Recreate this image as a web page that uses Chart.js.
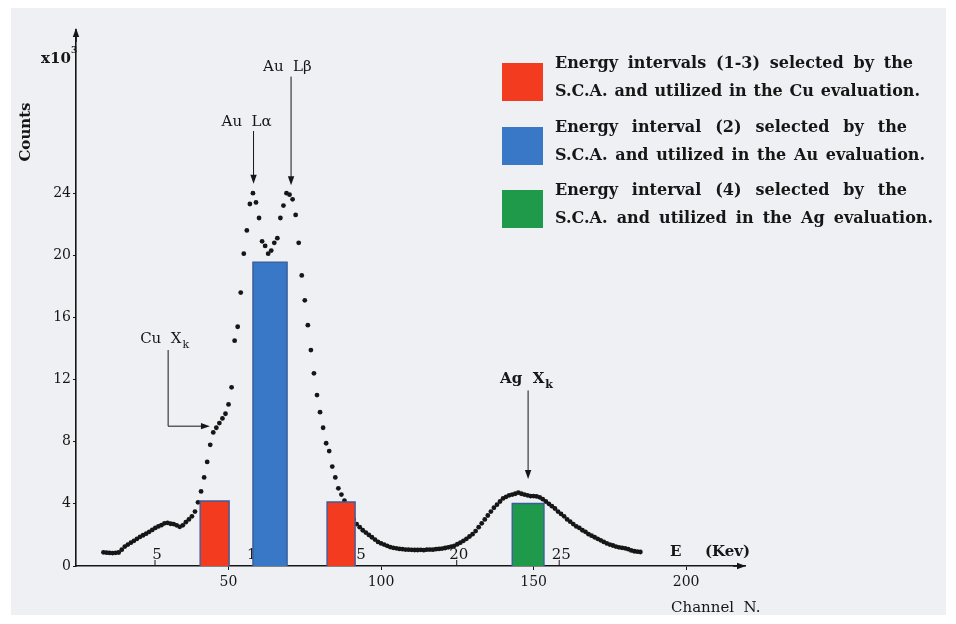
<!DOCTYPE html>
<html>
<head>
<meta charset="utf-8">
<script src="https://cdn.jsdelivr.net/npm/chart.js@4.4.0/dist/chart.umd.min.js"></script>
<style>
  html, body { margin: 0; padding: 0; background: #fff; }
  #wrap { width: 956px; height: 624px; }
</style>
</head>
<body>
<div id="wrap"><canvas id="spectrum" width="956" height="624"></canvas></div>
<script>
/*******************************  Data  ********************************/
// counts (x10^3) per channel, one channel at a time
var firstChannel = 9;
var counts = [
  0.88, 0.86, 0.84, 0.83, 0.85, 0.87, 1.05, 1.25, 1.38, 1.50,   // 9-18
  1.62, 1.75, 1.88, 1.98, 2.08, 2.20, 2.32, 2.45, 2.55, 2.63,   // 19-28
  2.75, 2.78, 2.72, 2.70, 2.62, 2.52, 2.62, 2.82, 3.00, 3.20,   // 29-38
  3.50, 4.10, 4.80, 5.70, 6.70, 7.80, 8.60, 8.90, 9.20, 9.50,   // 39-48
  9.80, 10.4, 11.5, 14.5, 15.4, 17.6, 20.1, 21.6, 23.3, 24.0,   // 49-58
  23.4, 22.4, 20.9, 20.6, 20.1, 20.3, 20.8, 21.1, 22.4, 23.2,   // 59-68
  24.0, 23.9, 23.6, 22.6, 20.8, 18.7, 17.1, 15.5, 13.9, 12.4,   // 69-78
  11.0, 9.90, 8.90, 7.90, 7.40, 6.40, 5.70, 5.00, 4.60, 4.20,   // 79-88
  3.80, 3.40, 3.00, 2.70, 2.50, 2.30, 2.15, 2.00, 1.85, 1.70,   // 89-98
  1.55, 1.45, 1.38, 1.30, 1.22, 1.17, 1.14, 1.10, 1.08, 1.06,   // 99-108
  1.05, 1.04, 1.03, 1.03, 1.04, 1.02, 1.05, 1.06, 1.05, 1.08,   // 109-118
  1.10, 1.12, 1.16, 1.20, 1.25, 1.30, 1.40, 1.50, 1.62, 1.75,   // 119-128
  1.90, 2.05, 2.25, 2.50, 2.75, 3.00, 3.25, 3.50, 3.75, 3.95,   // 129-138
  4.15, 4.35, 4.45, 4.55, 4.60, 4.65, 4.72, 4.65, 4.60, 4.55,   // 139-148
  4.50, 4.50, 4.48, 4.42, 4.30, 4.15, 4.00, 3.85, 3.70, 3.50,   // 149-158
  3.35, 3.20, 3.00, 2.85, 2.70, 2.55, 2.45, 2.30, 2.20, 2.05,   // 159-168
  1.95, 1.85, 1.75, 1.65, 1.55, 1.45, 1.38, 1.32, 1.25, 1.20,   // 169-178
  1.17, 1.14, 1.08, 1.00, 0.95, 0.92, 0.90                      // 179-185
];

// S.C.A. energy windows (channels) and the bar heights (x10^3 counts)
var intervalNames  = ['1', '2', '3', '4'];
var intervalStart  = [40.7, 58.0, 82.3, 143.0];
var intervalEnd    = [50.2, 69.2, 91.5, 153.4];
var intervalCounts = [4.18, 19.56, 4.12, 4.02];

// axis ticks
var channelTicks = [50, 100, 150, 200];
var countTicks   = [0, 4, 8, 12, 16, 20, 24];
// energy scale printed along the channel axis (keV -> channel)
var energyLabels   = ['5', '10', '15', '20', '25'];
var energyChannels = [25.9, 58.5, 91.2, 124.8, 158.4];

var legendLines = [
  ['Energy intervals (1-3) selected by the', 'S.C.A. and utilized in the Cu evaluation.'],
  ['Energy interval (2) selected by the', 'S.C.A. and utilized in the Au evaluation.'],
  ['Energy interval (4) selected by the', 'S.C.A. and utilized in the Ag evaluation.']
];

/*****************************  Styles  ********************************/
var RED = '#f23b1f', BLUE = '#3878c6', GREEN = '#1f9a4b';
var intervalColors = [RED, BLUE, RED, GREEN];
var legendColors = [RED, BLUE, GREEN];
var INK = '#161616';
var SERIF = '"DejaVu Serif", "Liberation Serif", serif';

/****************************  Datasets  *******************************/
var datasets = [];
for (var i = 0; i < intervalStart.length; i++) {
    datasets.push({
        label: 'Interval ' + intervalNames[i],
        data: [
            {x: intervalStart[i], y: 0},
            {x: intervalStart[i], y: intervalCounts[i]},
            {x: intervalEnd[i], y: intervalCounts[i]},
            {x: intervalEnd[i], y: 0}
        ],
        fill: 'origin',
        backgroundColor: intervalColors[i],
        borderColor: '#3b5c9a',
        borderWidth: 1.4,
        pointRadius: 0,
        tension: 0,
        order: 0
    });
}
datasets.push({
    label: 'Spectrum',
    data: counts.map(function(c, k) { return {x: firstChannel + k, y: c}; }),
    showLine: false,
    pointRadius: 2.4,
    pointBorderWidth: 0,
    pointBackgroundColor: INK,
    order: 1
});

/*****************************  Helpers  *******************************/
function arrow(ctx, x1, y1, x2, y2) {
    var a = Math.atan2(y2 - y1, x2 - x1), len = 9, w = 3.2;
    ctx.beginPath();
    ctx.moveTo(x1, y1);
    ctx.lineTo(x2 - Math.cos(a) * len * 0.8, y2 - Math.sin(a) * len * 0.8);
    ctx.stroke();
    ctx.beginPath();
    ctx.moveTo(x2, y2);
    ctx.lineTo(x2 - Math.cos(a) * len - Math.sin(a) * w, y2 - Math.sin(a) * len + Math.cos(a) * w);
    ctx.lineTo(x2 - Math.cos(a) * len + Math.sin(a) * w, y2 - Math.sin(a) * len - Math.cos(a) * w);
    ctx.closePath();
    ctx.fill();
}

// spread the words of a line over a given width, like the typeset legend
function justified(ctx, text, x, y, width) {
    var words = text.split(' ');
    var used = 0;
    for (var i = 0; i < words.length; i++) used += ctx.measureText(words[i]).width;
    var gap = words.length > 1 ? (width - used) / (words.length - 1) : 0;
    for (var j = 0; j < words.length; j++) {
        ctx.fillText(words[j], x, y);
        x += ctx.measureText(words[j]).width + gap;
    }
}

function withSub(ctx, main, sub, x, y, subFont) {
    ctx.fillText(main, x, y);
    var w = ctx.measureText(main).width;
    var f = ctx.font;
    ctx.font = subFont;
    ctx.fillText(sub, x + w + 1, y + 5);
    ctx.font = f;
}

/*****************************  Plugin  ********************************/
var decor = {
    id: 'decor',
    beforeDraw: function(chart) {
        var ctx = chart.ctx;
        ctx.save();
        ctx.fillStyle = '#ffffff';
        ctx.fillRect(0, 0, chart.width, chart.height);
        ctx.fillStyle = '#eef0f4';
        ctx.fillRect(11, 8, chart.width - 21, chart.height - 17);
        ctx.restore();
    },
    beforeDatasetsDraw: function(chart) {
        // keV labels sit under the bars, as in the print
        var ctx = chart.ctx, xs = chart.scales.x, bottom = chart.chartArea.bottom;
        ctx.save();
        ctx.fillStyle = INK;
        ctx.strokeStyle = INK;
        ctx.lineWidth = 1;
        ctx.font = '15px ' + SERIF;
        ctx.textAlign = 'center';
        ctx.textBaseline = 'alphabetic';
        for (var i = 0; i < energyLabels.length; i++) {
            var px = xs.getPixelForValue(energyChannels[i]);
            ctx.beginPath();
            ctx.moveTo(px, bottom);
            ctx.lineTo(px, bottom - 6);
            ctx.stroke();
            ctx.fillText(energyLabels[i], px + 2, bottom - 7);
        }
        ctx.restore();
    },
    afterDraw: function(chart) {
        var ctx = chart.ctx, area = chart.chartArea;
        var xs = chart.scales.x, ys = chart.scales.y;
        var X = function(v) { return xs.getPixelForValue(v); };
        var Y = function(v) { return ys.getPixelForValue(v); };
        ctx.save();
        ctx.fillStyle = INK;
        ctx.strokeStyle = INK;

        // axis arrow heads
        ctx.lineWidth = 1.6;
        arrow(ctx, area.left, area.top + 12, area.left, area.top - 2);
        arrow(ctx, area.right - 12, area.bottom, area.right + 1, area.bottom);

        // peak arrows
        ctx.lineWidth = 1;
        arrow(ctx, X(58.2), Y(28.0), X(58.2), Y(24.6));
        arrow(ctx, X(70.5), Y(31.5), X(70.5), Y(24.5));
        arrow(ctx, X(148.2), Y(11.3), X(148.2), Y(5.6));
        ctx.beginPath();
        ctx.moveTo(X(30.2), Y(13.9));
        ctx.lineTo(X(30.2), Y(9.0));
        ctx.stroke();
        arrow(ctx, X(30.2), Y(9.0), X(43.9), Y(9.0));

        ctx.textBaseline = 'alphabetic';
        ctx.textAlign = 'left';
        ctx.font = '15px ' + SERIF;
        ctx.fillText('Au  L\u03b1', X(58.2) - 32, Y(28.0) - 5);
        ctx.fillText('Au  L\u03b2', X(70.5) - 28, Y(31.5) - 6);
        withSub(ctx, 'Cu  X', 'k', X(30.2) - 28, Y(13.9) - 7, '11px ' + SERIF);
        ctx.font = 'bold 15px ' + SERIF;
        withSub(ctx, 'Ag  X', 'k', X(148.2) - 28, Y(11.3) - 7, 'bold 11px ' + SERIF);

        // axis titles
        ctx.font = 'bold 15px ' + SERIF;
        ctx.fillText('x10', 41, 63);
        ctx.font = 'bold 9px ' + SERIF;
        ctx.fillText('3', 71, 53);
        ctx.save();
        ctx.translate(30, 132);
        ctx.rotate(-Math.PI / 2);
        ctx.textAlign = 'center';
        ctx.font = 'bold 15px ' + SERIF;
        ctx.fillText('Counts', 0, 0);
        ctx.restore();
        ctx.font = 'bold 15px ' + SERIF;
        ctx.fillText('E', 670, 556);
        ctx.fillText('(Kev)', 705, 556);
        ctx.font = '15px ' + SERIF;
        ctx.fillText('Channel  N.', 671, 612);

        // legend
        var boxTop = [63, 127, 190];
        var lineWidths = [[358, 365], [352, 370], [352, 378]];
        ctx.textBaseline = 'middle';
        for (var i = 0; i < legendLines.length; i++) {
            ctx.fillStyle = legendColors[i];
            ctx.fillRect(502, boxTop[i], 41, 38);
            ctx.fillStyle = INK;
            ctx.font = 'bold 16px ' + SERIF;
            justified(ctx, legendLines[i][0], 555, boxTop[i] + 1, lineWidths[i][0]);
            justified(ctx, legendLines[i][1], 555, boxTop[i] + 29, lineWidths[i][1]);
        }
        ctx.restore();
    }
};

/******************************  Chart  ********************************/
var chart = new Chart(document.getElementById('spectrum'), {
    type: 'line',
    data: { datasets: datasets },
    plugins: [decor],
    options: {
        responsive: false,
        animation: false,
        layout: { padding: { left: 0, right: 211, top: 30, bottom: 0 } },
        plugins: { legend: { display: false }, tooltip: { enabled: false } },
        scales: {
            x: {
                type: 'linear',
                min: 0,
                max: 219.3,
                afterBuildTicks: function(s) { s.ticks = channelTicks.map(function(v) { return {value: v}; }); },
                afterFit: function(s) { s.height = 58; },
                grid: { drawOnChartArea: false, drawTicks: true, tickLength: 4, color: INK },
                border: { display: true, color: INK, width: 1.6 },
                ticks: { color: INK, font: { family: SERIF, size: 14 }, padding: 4, maxRotation: 0 }
            },
            y: {
                type: 'linear',
                min: 0,
                max: 34.5,
                afterBuildTicks: function(s) { s.ticks = countTicks.map(function(v) { return {value: v}; }); },
                afterFit: function(s) { s.width = 76; },
                grid: { drawOnChartArea: false, drawTicks: true, tickLength: 3, color: INK },
                border: { display: true, color: INK, width: 1.6 },
                ticks: { color: INK, font: { family: SERIF, size: 14 }, padding: 2 }
            }
        }
    }
});
</script>
</body>
</html>
